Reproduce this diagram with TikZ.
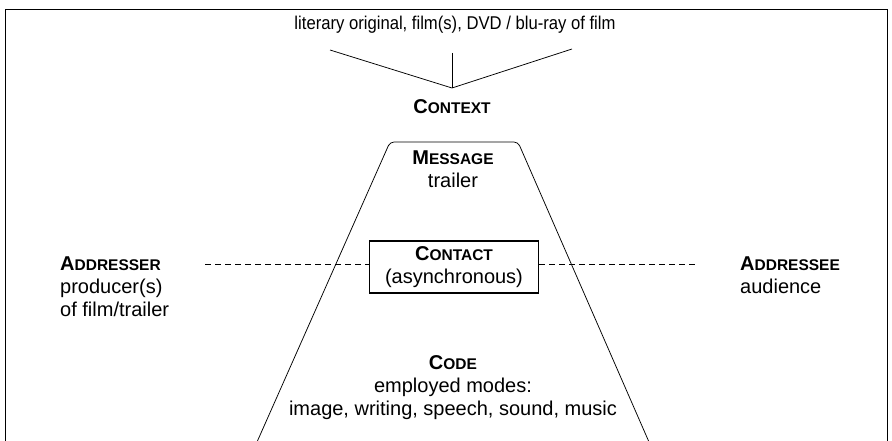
\documentclass[tikz,border=0pt]{standalone}
\usepackage{fontspec}
\usepackage{graphicx}
\setmainfont{Liberation Sans}
% bold caps with smaller capitals for the rest of the word
\newcommand\fakesc[2]{\textbf{#1{\fontsize{15.5}{18}\selectfont #2}}}
\begin{document}
\begin{tikzpicture}[x=1pt,y=-1pt,
  txt/.style={font=\fontsize{20}{23}\selectfont, inner sep=0pt, align=center},
  ltxt/.style={font=\fontsize{20}{23}\selectfont, inner sep=0pt, align=left},
  thin line/.style={line width=0.75pt},
  frame/.style={line width=0.9pt}]
\useasboundingbox (0,0) rectangle (892,441);
% outer frame (open at the bottom)
\draw[frame] (5,441) -- (5,9) -- (887,9) -- (887,441);

% context sources (slightly narrow set) and the converging lines
\node[txt, font=\fontsize{18.5}{21}\selectfont] (src) at (455,25)
  {\scalebox{0.9}[1]{literary original, film(s), DVD / blu-ray of film}};
\coordinate (apex) at (452,88);
\coordinate (srcL) at (330,50);
\coordinate (srcM) at (452,53);
\coordinate (srcR) at (572,49);
\draw[thin line] (srcL) -- (apex) -- (srcR);
\draw[thin line] (srcM) -- (apex);
\node[txt] (context) at (452,107) {\fakesc{C}{ONTEXT}};

% message trapezoid
\draw[thin line, rounded corners=4pt] (257,442) -- (390,142) -- (518,142) -- (649,442);
\node[txt, anchor=north] (message) at (453,151) {\fakesc{M}{ESSAGE}\\ trailer};

% contact box and dashed channel
\node[draw, line width=1.5pt, minimum width=169pt, minimum height=52pt,
      font=\fontsize{20}{23}\selectfont, align=center, inner sep=0pt] (contact) at (454,267)
      {\fakesc{C}{ONTACT}\\ (asynchronous)};
\coordinate (chanL) at (205,264);
\coordinate (chanR) at (697,264);
\draw[thin line, dash pattern=on 6pt off 4pt] (chanL) -- (chanL -| contact.west);
\draw[thin line, dash pattern=on 6pt off 4pt] (chanR -| contact.east) -- (chanR);

% addresser and addressee
\node[ltxt, anchor=north west] (addresser) at (60,257) {\fakesc{A}{DDRESSER}\\ producer(s)\\ of film/trailer};
\node[ltxt, anchor=north west] (addressee) at (740,257) {\fakesc{A}{DDRESSEE}\\ audience};

% code
\node[txt, anchor=north] (code) at (453,355) {\fakesc{C}{ODE}\\ employed modes:\\ image, writing, speech, sound, music};
\end{tikzpicture}
\end{document}
